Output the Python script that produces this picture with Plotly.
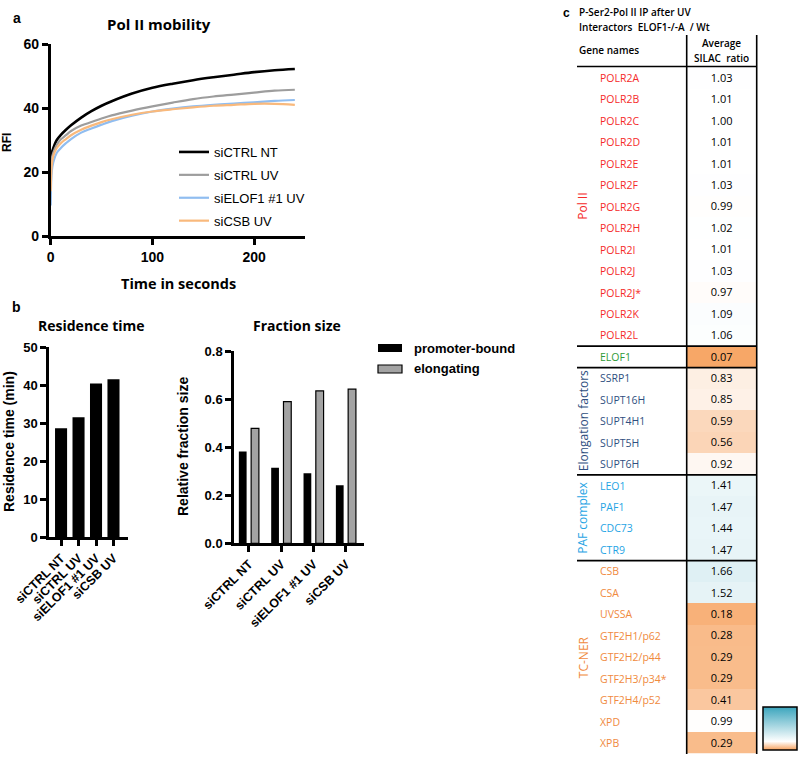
import plotly.graph_objects as go

W, H = 800, 758

# panel a: Pol II mobility
time_s = [0, 1, 2.5, 6, 10, 15, 20, 30, 40, 50, 60, 80, 100, 120, 140, 160, 180, 200, 220, 240]
rfi_ctrl_nt = [18, 25.8, 27.4, 30, 31.6, 33.2, 34.6, 37.0, 39.0, 40.7, 42.1, 44.5, 46.3, 47.6, 48.7, 49.6, 50.4, 51.2, 51.8, 52.2]
rfi_ctrl_uv = [17, 24, 26, 28.5, 30.2, 31.5, 32.8, 34.5, 35.6, 36.7, 37.7, 39.2, 40.5, 41.7, 42.8, 43.6, 44.2, 44.8, 45.4, 45.7]
rfi_elof1_uv = [9.5, 20, 23, 26, 27.5, 29, 30.3, 32.3, 33.6, 34.8, 35.9, 37.6, 38.9, 39.8, 40.5, 41, 41.4, 41.8, 42.2, 42.5]
rfi_csb_uv = [14, 22, 25, 27.5, 29, 30.3, 31.5, 33.2, 34.5, 35.6, 36.5, 37.9, 38.9, 39.6, 40.2, 40.7, 41, 41.3, 41.3, 41]

# panel b
conditions = ['siCTRL NT', 'siCTRL UV', 'siELOF1 #1 UV', 'siCSB UV']
residence_min = [28.7, 31.6, 40.5, 41.6]
promoter_bound = [0.382, 0.315, 0.292, 0.242]
elongating = [0.479, 0.590, 0.635, 0.642]

# panel c
gene_names = ['POLR2A', 'POLR2B', 'POLR2C', 'POLR2D', 'POLR2E', 'POLR2F', 'POLR2G', 'POLR2H',
              'POLR2I', 'POLR2J', 'POLR2J*', 'POLR2K', 'POLR2L', 'ELOF1', 'SSRP1', 'SUPT16H',
              'SUPT4H1', 'SUPT5H', 'SUPT6H', 'LEO1', 'PAF1', 'CDC73', 'CTR9', 'CSB', 'CSA',
              'UVSSA', 'GTF2H1/p62', 'GTF2H2/p44', 'GTF2H3/p34*', 'GTF2H4/p52', 'XPD', 'XPB']
silac_ratio = [1.03, 1.01, 1.00, 1.01, 1.01, 1.03, 0.99, 1.02, 1.01, 1.03, 0.97, 1.09, 1.06,
               0.07, 0.83, 0.85, 0.59, 0.56, 0.92, 1.41, 1.47, 1.44, 1.47, 1.66, 1.52,
               0.18, 0.28, 0.29, 0.29, 0.41, 0.99, 0.29]
gene_group = ['Pol II'] * 13 + ['ELOF1'] + ['Elongation factors'] * 5 + ['PAF complex'] * 4 + ['TC-NER'] * 9
group_colors = {'Pol II': '#f52a2a', 'ELOF1': '#2e9a36', 'Elongation factors': '#2f4f80',
                'PAF complex': '#1fa4e4', 'TC-NER': '#f08a3e'}


def px_x(p):
    return p / W


def px_y(p):
    return 1 - p / H


axis_style = dict(showline=True, linewidth=2.5, linecolor='black', ticks='outside', ticklen=6,
                  tickwidth=2.5, tickcolor='black', showgrid=False, zeroline=False, automargin=False,
                  tickfont=dict(family='Liberation Sans', size=14, color='black', weight='bold'))

fig = go.Figure()

curves = [('siCTRL NT', rfi_ctrl_nt, '#000000', 2.6),
          ('siCTRL UV', rfi_ctrl_uv, '#9d9d9d', 2.2),
          ('siELOF1 #1 UV', rfi_elof1_uv, '#90bdf0', 2.2),
          ('siCSB UV', rfi_csb_uv, '#f9b97c', 2.2)]
for name, vals, col, lw in curves:
    fig.add_trace(go.Scatter(x=time_s, y=vals, mode='lines', name=name, legendgroup=name,
                             line=dict(color=col, width=lw, shape='spline'), xaxis='x', yaxis='y'))

fig.add_trace(go.Bar(x=conditions, y=residence_min, width=0.69, marker=dict(color='black', line=dict(width=0)),
                     xaxis='x2', yaxis='y2', showlegend=False))
fig.add_trace(go.Bar(x=conditions, y=promoter_bound, width=0.24, offset=-0.31,
                     marker=dict(color='black', line=dict(width=0)), xaxis='x3', yaxis='y3', showlegend=False))
fig.add_trace(go.Bar(x=conditions, y=elongating, width=0.24, offset=0.07,
                     marker=dict(color='#a3a3a3', line=dict(color='black', width=1.2)),
                     xaxis='x3', yaxis='y3', showlegend=False))

rows = list(range(len(gene_names)))
fig.add_trace(go.Heatmap(
    z=[[v] for v in silac_ratio], x=[0], y=rows, text=[['%.2f' % v] for v in silac_ratio],
    texttemplate='%{text}', textfont=dict(family='Open Sans', size=11, color='black'),
    colorscale=[[0, '#f6a05c'], [0.2, '#ffffff'], [1, '#3ba5bd']], zmin=0, zmax=5,
    xaxis='x4', yaxis='y4', hoverinfo='skip',
    colorbar=dict(x=px_x(763), xanchor='left', y=px_y(728.5), yanchor='middle', len=43, lenmode='pixels',
                  thickness=34, thicknessmode='pixels', outlinewidth=1.5, outlinecolor='black',
                  tickvals=[0, 1, 5], ticks='', xpad=0, ypad=0,
                  tickfont=dict(family='Open Sans', size=13, color='black'))))

annotations = []


def note(text, x, y, size=13, color='black', family='Liberation Sans', weight='bold', angle=0, xanchor='center',
         xref='paper', yref='paper'):
    annotations.append(dict(text=text, x=px_x(x) if xref == 'paper' else x, y=px_y(y) if yref == 'paper' else y,
                            xref=xref, yref=yref, showarrow=False, xanchor=xanchor, yanchor='middle',
                            textangle=angle, font=dict(family=family, size=size, color=color, weight=weight)))


note('a', 17, 18, 14)
note('b', 16, 307, 14)
note('c', 566, 13, 12)
note('Pol II mobility', 159, 24, 15, family='Open Sans')
note('Time in seconds', 178, 284, 14.5, family='Open Sans')
note('RFI', 7, 143, 12, angle=-90)
note('Residence time', 91, 326, 14, family='Open Sans')
note('Fraction size', 297, 326, 14, family='Open Sans')
note('Residence time (min)', 9, 442, 14, angle=-90)
note('Relative fraction size', 183, 447, 14, angle=-90)

# legend for fraction size
shapes = []
shapes.append(dict(type='rect', xref='paper', yref='paper', x0=px_x(378), x1=px_x(402), y0=px_y(344), y1=px_y(352),
                   fillcolor='black', line=dict(width=0)))
shapes.append(dict(type='rect', xref='paper', yref='paper', x0=px_x(378), x1=px_x(402), y0=px_y(365), y1=px_y(373),
                   fillcolor='#a3a3a3', line=dict(color='black', width=1.2)))
note('promoter-bound', 412, 348, 13, xanchor='left')
note('elongating', 412, 369, 13, xanchor='left')

# table header
note('P-Ser2-Pol II IP after UV', 577, 12, 10, family='Open Sans', weight=600, xanchor='left')
note('Interactors  ELOF1-/-A  / Wt', 577, 27, 10, family='Open Sans', weight=600, xanchor='left')
note('Gene names', 577, 50, 10, family='Open Sans', weight=600, xanchor='left')
note('Average', 721, 43, 10, family='Open Sans', weight=600)
note('SILAC  ratio', 721, 58, 10, family='Open Sans', weight=600)

for i, (g, grp) in enumerate(zip(gene_names, gene_group)):
    note(g, 598, i, 10.5, color=group_colors[grp], family='Open Sans', weight='normal', xanchor='left', yref='y4')

groups = []
for grp in gene_group:
    if grp not in groups:
        groups.append(grp)
for grp in groups:
    idx = [i for i, gg in enumerate(gene_group) if gg == grp]
    if grp != 'ELOF1':
        note(grp, 583, sum(idx) / len(idx), 12, color=group_colors[grp], family='Open Sans', weight='normal',
             angle=-90, yref='y4')
    if idx[0] > 0:
        shapes.append(dict(type='line', xref='paper', yref='y4', x0=px_x(577), x1=px_x(757),
                           y0=idx[0] - 0.5, y1=idx[0] - 0.5, line=dict(color='black', width=1.6)))

shapes.append(dict(type='line', xref='paper', yref='paper', x0=px_x(577), x1=px_x(757), y0=px_y(66.5),
                   y1=px_y(66.5), line=dict(color='black', width=1.6)))
for xv in (686.7, 756.7):
    shapes.append(dict(type='line', xref='paper', yref='paper', x0=px_x(xv), x1=px_x(xv), y0=px_y(35),
                       y1=px_y(754), line=dict(color='black', width=1.6)))

fig.update_layout(
    width=W, height=H, autosize=False, margin=dict(l=0, r=0, t=0, b=0, pad=0, autoexpand=False),
    plot_bgcolor='white', paper_bgcolor='white', barmode='overlay',
    showlegend=True,
    legend=dict(x=px_x(174), y=px_y(137), xanchor='left', yanchor='top', bgcolor='rgba(0,0,0,0)',
                font=dict(family='Liberation Sans', size=13, color='black'), itemwidth=30, tracegroupgap=3),
    xaxis=dict(axis_style, domain=[px_x(50.7), px_x(305)], range=[0, 250], tickvals=[0, 100, 200], anchor='y'),
    yaxis=dict(axis_style, domain=[px_y(236), px_y(44)], range=[0, 60], dtick=20, anchor='x'),
    xaxis2=dict(axis_style, domain=[px_x(49), px_x(128)], range=[-0.69, 3.83], type='category', tickangle=-45,
                anchor='y2', tickfont=dict(family='Liberation Sans', size=12.5, color='black', weight='bold')),
    yaxis2=dict(axis_style, domain=[px_y(537.3), px_y(347.3)], range=[0, 50], dtick=10, anchor='x2',
                tickfont=dict(family='Liberation Sans', size=13, color='black', weight='bold')),
    xaxis3=dict(axis_style, domain=[px_x(234), px_x(364)], range=[-0.46, 3.56], type='category', tickangle=-45,
                anchor='y3', tickfont=dict(family='Liberation Sans', size=12.5, color='black', weight='bold')),
    yaxis3=dict(axis_style, domain=[px_y(543.3), px_y(351.3)], range=[0, 0.8], dtick=0.2, tickformat='.1f',
                anchor='x3', tickfont=dict(family='Liberation Sans', size=13, color='black', weight='bold')),
    xaxis4=dict(domain=[px_x(686.7), px_x(756.7)], range=[-0.5, 0.5], visible=False, anchor='y4'),
    yaxis4=dict(domain=[px_y(753.7), px_y(67.3)], range=[31.5, -0.5], visible=False, anchor='x4'),
    annotations=annotations, shapes=shapes,
)

# the page's default 8px body margin would shift the whole figure
fig.write_html("out.html", config={'displayModeBar': False},
               post_script="document.body.style.margin='0';")
